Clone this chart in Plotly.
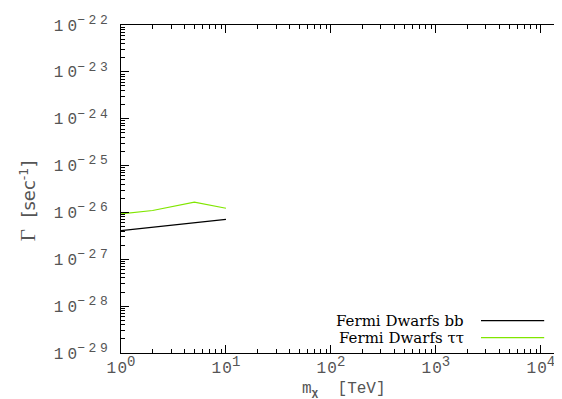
import plotly.graph_objects as go

mass_bb = [1, 2, 5, 10]
gamma_bb = [4.1e-27, 4.8e-27, 5.9e-27, 7.1e-27]
mass_tt = [1, 2, 5, 10]
gamma_tt = [9.3e-27, 1.1e-26, 1.66e-26, 1.23e-26]
series_names = ["Fermi Dwarfs bb", "Fermi Dwarfs \u03c4\u03c4"]
series_colors = ["#000000", "#80e600"]
x_exponents = [0, 1, 2, 3, 4]
y_exponents = [-29, -28, -27, -26, -25, -24, -23, -22]


def gap(px):
    return "<span style='font-size:%dpx'> </span>" % px


def spaced(s, px):
    return gap(px).join(s)


def x_label(e):
    return spaced("10", 2) + "<sup><span style='font-size:14px'>" + str(e) + "</span></sup>"


def y_label(e):
    exp = str(e).replace("-", "\u2212")
    return spaced("10", 7) + "<sup><span style='font-size:13px'>" + spaced(exp, 6) + "</span></sup>"


x_major = [10.0 ** e for e in x_exponents]
y_major = [10.0 ** e for e in y_exponents]
x_minor = [m * 10.0 ** e for e in range(0, 5) for m in range(2, 10)]
y_minor = [m * 10.0 ** e for e in range(-29, -22) for m in range(2, 10)]

fig = go.Figure()
fig.add_trace(go.Scatter(x=mass_bb, y=gamma_bb, mode="lines", name=series_names[0],
                         line=dict(color=series_colors[0], width=1.2), showlegend=False))
fig.add_trace(go.Scatter(x=mass_tt, y=gamma_tt, mode="lines", name=series_names[1],
                         line=dict(color=series_colors[1], width=1.2), showlegend=False))

# manual legend (text left, sample line right)
leg_y = [0.099, 0.047]
for name, col, yy in zip(series_names, series_colors, leg_y):
    fig.add_annotation(xref="paper", yref="paper", x=0.776, y=yy, text=name,
                       showarrow=False, xanchor="right", yanchor="middle",
                       font=dict(family="DejaVu Serif", size=15, color="black"))
    fig.add_shape(type="line", xref="paper", yref="paper", x0=0.809, x1=0.951,
                  y0=yy, y1=yy, line=dict(color=col, width=1.2))

tickfont = dict(family="Liberation Mono", size=16, color="#555")
common = dict(type="log", ticks="inside", ticklen=8, tickcolor="black",
              showline=True, linecolor="black", linewidth=1, mirror="ticks",
              showgrid=False, zeroline=False, tickfont=tickfont, automargin=False,
              tickmode="array")
fig.update_xaxes(range=[0, 4.24], tickvals=x_major,
                 ticktext=[x_label(e) for e in x_exponents],
                 minor=dict(ticks="inside", ticklen=4, tickcolor="black", showgrid=False,
                            tickmode="array", tickvals=x_minor), **common)
fig.update_yaxes(range=[-29, -22], tickvals=y_major, ticklabelstandoff=9,
                 ticktext=[y_label(e) for e in y_exponents],
                 minor=dict(ticks="inside", ticklen=4, tickcolor="black", showgrid=False,
                            tickmode="array", tickvals=y_minor), **common)

# axis titles as annotations
fig.add_annotation(xref="paper", yref="paper", x=0.5, y=-0.112,
                   text="m<sub><b>\u03c7</b></sub>" + gap(16) + " [TeV]", showarrow=False,
                   xanchor="center", yanchor="middle",
                   font=dict(family="Liberation Mono", size=16, color="#555"))
fig.add_annotation(xref="paper", yref="paper", x=-0.209, y=0.466,
                   text="<span style='font-family:Liberation Serif;font-size:21px'>\u0393</span>  [sec<sup>-1</sup>]",
                   showarrow=False, textangle=-90, xanchor="center", yanchor="middle",
                   font=dict(family="DejaVu Sans", size=18, color="#555"))

fig.update_layout(width=562, height=399, margin=dict(l=113, r=4, t=17, b=54),
                  plot_bgcolor="white", paper_bgcolor="white", showlegend=False)
fig.write_html("out.html")
